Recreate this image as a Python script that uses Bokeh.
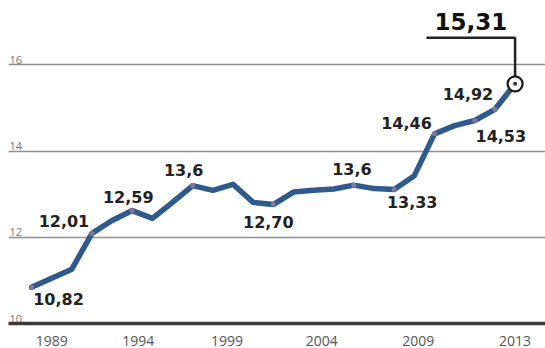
from bokeh.plotting import figure
from bokeh.models import FixedTicker, Range1d, Grid, ColumnDataSource
from bokeh.core.properties import value
from bokeh.embed import file_html
from bokeh.resources import INLINE

# ---- data ----
years = list(range(1989, 2014))
values = [10.84, 11.05, 11.26, 12.09, 12.39, 12.62, 12.44, 12.81, 13.20, 13.09,
          13.23, 12.81, 12.76, 13.05, 13.09, 13.12, 13.21, 13.13, 13.11, 13.43,
          14.40, 14.59, 14.71, 14.97, 15.56]

label_years = [1989, 1992, 1994, 1997, 2001, 2005, 2007, 2009, 2011, 2012]
label_texts = ["10,82", "12,01", "12,59", "13,6", "12,70", "13,6", "13,33", "14,46", "14,53", "14,92"]
label_dx = [27, -28, -4, -9, -5, -2, 18, -28, 26, -27]
label_dy = [12, -12, -14, -16, 17, -16, 13, -11, 16, -15]

last_label = "15,31"

y_ticks = [10, 12, 14, 16]
y_tick_labels = ["10", "12", "14", "16"]

tick_positions = [1990, 1994.3, 1998.7, 2003.4, 2008.2, 2013]
tick_labels = ["1989", "1994", "1999", "2004", "2009", "2013"]

# ---- figure ----
PX_PER_YEAR = 20.15
FRAME_W, FRAME_H = 537, 315
x0 = 1989 - 23 / PX_PER_YEAR
x1 = x0 + FRAME_W / PX_PER_YEAR
y0 = 10
y1 = y0 + FRAME_H / 43.1

p = figure(frame_width=FRAME_W, frame_height=FRAME_H, output_backend="svg",
           toolbar_location=None, x_range=Range1d(x0, x1), y_range=Range1d(y0, y1),
           y_axis_location=None, min_border_left=8, min_border_right=0,
           min_border_top=8, min_border_bottom=25)
p.outline_line_color = None
p.background_fill_color = "white"
p.border_fill_color = "white"
for g in p.grid:
    g.visible = False

grid = Grid(dimension=1, ticker=FixedTicker(ticks=y_ticks[1:]),
            grid_line_color="#8f8f8f", grid_line_width=1.6)
p.add_layout(grid)

xa = p.xaxis[0]
xa.ticker = FixedTicker(ticks=tick_positions)
xa.major_label_overrides = {t: l for t, l in zip(tick_positions, tick_labels)}
xa.axis_line_color = "#3a3a3a"
xa.axis_line_width = 3.5
xa.major_tick_line_color = None
xa.minor_tick_line_color = None
xa.major_label_standoff = 6
xa.major_label_text_font = "Open Sans"
xa.major_label_text_font_size = "14px"
xa.major_label_text_color = "#555555"

# y labels inside plot
p.text(x=[x0] * len(y_ticks), y=y_ticks, text=y_tick_labels,
       text_font=value("Open Sans"), text_font_size="11px", text_color="#777777",
       text_align="left", text_baseline="bottom", x_offset=1, y_offset=-1)

# main line
p.line(years, values, line_color="#30598e", line_width=5.5, line_join="round", line_cap="round")

# labelled points
vals_by_year = dict(zip(years, values))
label_vals = [vals_by_year[y] for y in label_years]
p.scatter(label_years, label_vals, size=5, fill_color="#7a7a9a", line_color=None)

src = ColumnDataSource(dict(x=label_years, y=label_vals, t=label_texts, dx=label_dx, dy=label_dy))
p.text(x="x", y="y", text="t", x_offset="dx", y_offset="dy", source=src,
       text_font=value("DejaVu Sans"), text_font_style="bold", text_font_size="16px",
       text_color="#222222", text_align="center", text_baseline="middle")

# last point callout
cx, cy = years[-1], values[-1]
rise, run = 1.07, 4.4
p.line([cx, cx, cx - run], [cy + 0.17, cy + rise, cy + rise], line_color="#222222", line_width=2.5)
p.scatter([cx], [cy], size=15, fill_color="white", line_color="#1a1a1a", line_width=2.2)
p.scatter([cx], [cy], size=4, fill_color="#333333", line_color=None)
p.text(x=[cx - run / 2], y=[cy + rise], text=[last_label],
       text_font=value("DejaVu Sans"), text_font_style="bold", text_font_size="23px",
       text_color="#111111", text_align="center", text_baseline="middle", y_offset=-16)

open("out.html", "w").write(file_html(p, INLINE))
